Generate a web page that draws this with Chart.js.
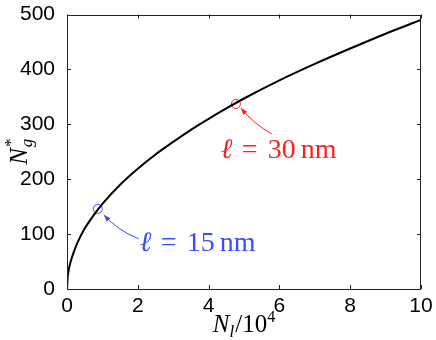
<!DOCTYPE html>
<html>
<head>
<meta charset="utf-8">
<script src="https://cdn.jsdelivr.net/npm/chart.js@4.4.0/dist/chart.umd.min.js"></script>
<style>
html, body { margin: 0; padding: 0; background: #fff; }
#wrap { width: 436px; height: 340px; }
</style>
</head>
<body>
<div id="wrap"><canvas id="c"></canvas></div>
<script>
// values
const nl = [0, 0.02, 0.05, 0.1, 0.2, 0.3, 0.5, 0.75, 1, 1.5, 2, 2.5, 3, 3.5, 4, 4.5, 5, 6, 7, 8, 9, 10];
const ng = [0, 22, 35, 49, 69, 85, 110, 134, 155, 190, 219, 245, 268, 290, 310, 329, 347, 380, 410, 438, 465, 490];
const markNl = [0.87, 4.77];
const markNg = [146, 337];
const markLengths = ['15', '30'];
const markColors = ['#3b4cff', '#ff1f1f'];
const xTicks = [0, 2, 4, 6, 8, 10];
const yTicks = [0, 100, 200, 300, 400, 500];

const serif = '"Liberation Serif", "DejaVu Serif", serif';
const sans = '"Liberation Sans", "DejaVu Sans", sans-serif';

function arrow(ctx, x0, y0, x1, y1, bend, color) {
    const mx = (x0 + x1) / 2, my = (y0 + y1) / 2;
    const dx = x1 - x0, dy = y1 - y0, len = Math.hypot(dx, dy);
    const cx = mx - dy / len * bend, cy = my + dx / len * bend;
    ctx.strokeStyle = color;
    ctx.fillStyle = color;
    ctx.lineWidth = 1;
    ctx.beginPath();
    ctx.moveTo(x0, y0);
    ctx.quadraticCurveTo(cx, cy, x1, y1);
    ctx.stroke();
    const ang = Math.atan2(y1 - cy, x1 - cx);
    ctx.beginPath();
    ctx.moveTo(x1, y1);
    ctx.lineTo(x1 - 7 * Math.cos(ang) + 2.5 * Math.sin(ang), y1 - 7 * Math.sin(ang) - 2.5 * Math.cos(ang));
    ctx.lineTo(x1 - 7 * Math.cos(ang) - 2.5 * Math.sin(ang), y1 - 7 * Math.sin(ang) + 2.5 * Math.cos(ang));
    ctx.closePath();
    ctx.fill();
}

// draws a list of [text, font, dy, gap] pieces starting at x
function pieces(ctx, parts, x, y) {
    parts.forEach(p => {
        ctx.font = p[1];
        ctx.fillText(p[0], x, y + p[2]);
        x += ctx.measureText(p[0]).width + (p[3] || 0);
    });
}
function piecesWidth(ctx, parts) {
    let w = 0;
    parts.forEach(p => { ctx.font = p[1]; w += ctx.measureText(p[0]).width + (p[3] || 0); });
    return w;
}

const extras = {
    id: 'extras',
    afterDraw(chart) {
        const {ctx, chartArea: a, scales: {x, y}} = chart;
        ctx.save();
        // box and inward ticks
        ctx.strokeStyle = '#222';
        ctx.lineWidth = 1;
        ctx.strokeRect(Math.round(a.left) + 0.5, Math.round(a.top) + 0.5,
            Math.round(a.right - a.left) - 1, Math.round(a.bottom - a.top) - 1);
        ctx.beginPath();
        xTicks.forEach(v => {
            const px = Math.round(x.getPixelForValue(v)) + 0.5;
            ctx.moveTo(px, a.bottom); ctx.lineTo(px, a.bottom - 4);
            ctx.moveTo(px, a.top); ctx.lineTo(px, a.top + 4);
        });
        yTicks.forEach(v => {
            const py = Math.round(y.getPixelForValue(v)) + 0.5;
            ctx.moveTo(a.left, py); ctx.lineTo(a.left + 4, py);
            ctx.moveTo(a.right, py); ctx.lineTo(a.right - 4, py);
        });
        ctx.stroke();

        // annotations: arrow + "ℓ = .. nm"
        const offs = [
            {tip: [6, 6], tail: [41, 30], bend: -5, text: [42, 42]},
            {tip: [5, 4], tail: [36, 30], bend: -4, text: [-15, 54]}
        ];
        ctx.textAlign = 'left';
        ctx.textBaseline = 'alphabetic';
        markNl.forEach((v, i) => {
            const px = x.getPixelForValue(v), py = y.getPixelForValue(markNg[i]);
            const o = offs[i];
            arrow(ctx, px + o.tail[0], py + o.tail[1], px + o.tip[0], py + o.tip[1], o.bend, markColors[i]);
            ctx.fillStyle = markColors[i];
            const tx = px + o.text[0], ty = py + o.text[1];
            ctx.font = 'italic 28px ' + serif;
            ctx.fillText('ℓ', tx, ty);
            ctx.font = '28px ' + serif;
            ctx.fillText('=', tx + 21, ty);
            ctx.fillText(markLengths[i], tx + 47, ty);
            ctx.fillText('nm', tx + 80, ty);
        });

        // axis titles
        ctx.fillStyle = '#000';
        const xParts = [['N', 'italic 25px ' + serif, 0], ['l', 'italic 17px ' + serif, 5, 1], ['/10', '25px ' + serif, 0], ['4', '16px ' + serif, -10]];
        const xw = piecesWidth(ctx, xParts);
        pieces(ctx, xParts, (a.left + a.right) / 2 - xw / 2, 332);

        ctx.translate(27, (a.top + a.bottom) / 2);
        ctx.rotate(-Math.PI / 2);
        const yParts = [['N', 'italic 25px ' + serif, 0, 1], ['g', 'italic 17px ' + serif, 5]];
        const yw = piecesWidth(ctx, yParts);
        pieces(ctx, yParts, -yw / 2, 0);
        ctx.font = 'italic 17px ' + serif;
        ctx.fillText('*', yw / 2 - 9, -11);
        ctx.restore();
    }
};

new Chart('c', {
    type: 'scatter',
    data: {
        datasets: [
            {
                data: nl.map((v, i) => ({x: v, y: ng[i]})),
                showLine: true,
                borderColor: '#000',
                borderWidth: 2,
                pointRadius: 0,
                cubicInterpolationMode: 'monotone'
            },
            ...markNl.map((v, i) => ({
                data: [{x: v, y: markNg[i]}],
                pointStyle: 'circle',
                pointRadius: 4.5,
                borderColor: markColors[i],
                backgroundColor: 'rgba(0,0,0,0)',
                borderWidth: 1
            }))
        ]
    },
    options: {
        responsive: true,
        maintainAspectRatio: false,
        animation: false,
        layout: {padding: {top: 13, right: 15, left: 0, bottom: 0}},
        plugins: {legend: {display: false}, tooltip: {enabled: false}},
        scales: {
            x: {
                type: 'linear', min: 0, max: 10,
                grid: {display: false},
                border: {display: false},
                ticks: {stepSize: 2, color: '#000', padding: -1, font: {family: sans, size: 21, lineHeight: 1}},
                afterFit: s => { s.height = 51; }
            },
            y: {
                min: 0, max: 500,
                grid: {display: false},
                border: {display: false},
                ticks: {stepSize: 100, color: '#000', padding: 4, font: {family: sans, size: 21, lineHeight: 1}},
                afterFit: s => { s.width = 67; }
            }
        }
    },
    plugins: [extras]
});
</script>
</body>
</html>
